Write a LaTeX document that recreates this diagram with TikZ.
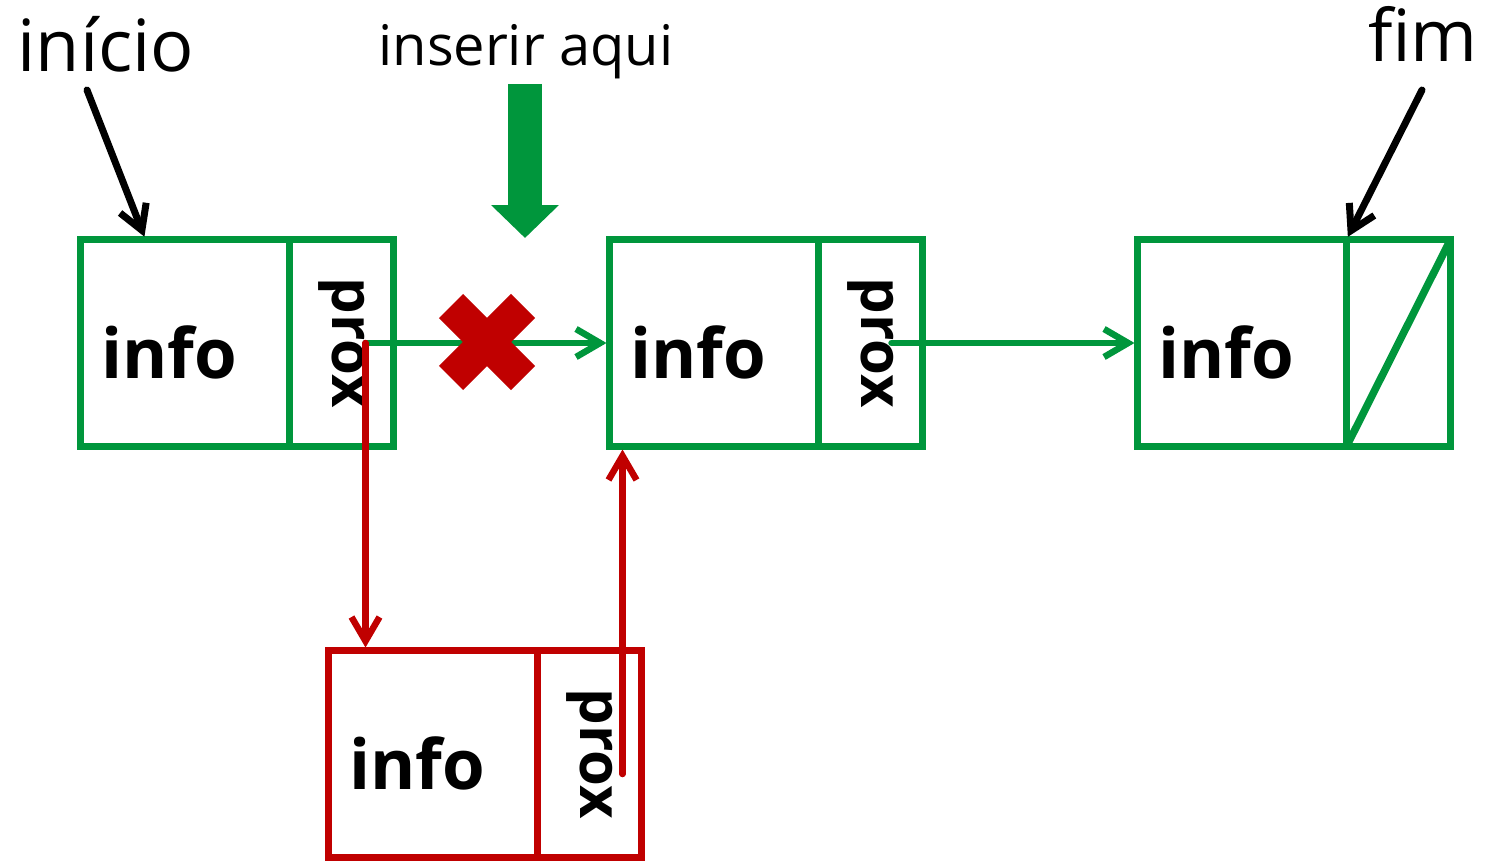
\documentclass[tikz,border=0pt]{standalone}
\usepackage{fontspec}
\setmainfont{Open Sans}
\usepackage{tikz}
\usetikzlibrary{arrows.meta}
\usetikzlibrary{positioning}

\definecolor{listgreen}{RGB}{0,150,60}
\definecolor{listred}{RGB}{192,0,0}

\begin{document}
\begin{tikzpicture}[x=1pt, y=-1pt,
    cell/.style={draw=listgreen, line width=7.5pt, outer sep=0pt, minimum height=207pt},
    infocell/.style={cell, text width=167pt, inner xsep=21pt, align=left, text height=70pt, text depth=0pt, font=\fontsize{69}{69}\selectfont\bfseries},
    proxcell/.style={cell, minimum width=104pt, label={[rotate=-90, font=\fontsize{58}{58}\selectfont\bfseries]center:prox}},
    redcell/.style={draw=listred},
    title/.style={font=\fontsize{72}{72}\selectfont, inner sep=0pt, anchor=base},
    ptr/.style={line width=6.5pt, line cap=round, line join=round, shorten >=3pt, -{Straight Barb[length=24pt, width=28pt]}},
    gptr/.style={ptr, listgreen},
    rptr/.style={ptr, listred},
    bptr/.style={ptr, black, line width=7pt},
    xmark/.style={listred, line width=34pt},
    bigarrow/.style={listgreen, line width=34pt, -{Triangle[length=33pt, width=66pt]}}]
    \useasboundingbox (0,0) rectangle (1485,864);

    \node[infocell] (n1) at (185,343) {info};
    \node[proxcell, right=0pt of n1] (n1p) {};
    \node[infocell] (n2) at (714,343) {info};
    \node[proxcell, right=0pt of n2] (n2p) {};
    \node[infocell] (n3) at (1242,343) {info};
    \node[cell, minimum width=104pt, right=0pt of n3] (n3p) {};
    \draw[listgreen, line width=7.5pt] (n3p.south west) -- (n3p.north east);
    \node[infocell, redcell] (r) at (433,754) {info};
    \node[proxcell, redcell, right=0pt of r] (rp) {};

    \node[title] (ini) at (106,72) {início};
    \node[title] (fim) at (1423,62) {fim};
    \node[title, font=\fontsize{56}{56}\selectfont] (ins) at (526,66) {inserir aqui};

    \coordinate (c1) at (87,90);
    \coordinate (c2) at (1422,90);
    \draw[bptr] (c1) -- ([xshift=65pt]n1.north west);
    \draw[bptr] (c2) -- (n3.north east);

    \coordinate (g1) at (525,84);
    \coordinate (g2) at (525,238);
    \draw[bigarrow] (g1) -- (g2);

    \coordinate (p1) at ([xshift=24pt]n1p.center);
    \coordinate (p2) at ([xshift=21pt]n2p.center);
    \draw[gptr] (p1) -- (n2.west);
    \draw[gptr] (p2) -- (n3.west);

    \coordinate (x) at (487,342);
    \draw[xmark] (x) ++(-36,-36) -- ++(72,72);
    \draw[xmark] (x) ++(-36,36) -- ++(72,-72);

    \draw[rptr] (p1) -- (p1 |- r.north);
    \coordinate (q1) at ([xshift=33pt, yshift=-20pt]rp.center);
    \draw[rptr] (q1) -- (q1 |- n2.south);
\end{tikzpicture}
\end{document}
